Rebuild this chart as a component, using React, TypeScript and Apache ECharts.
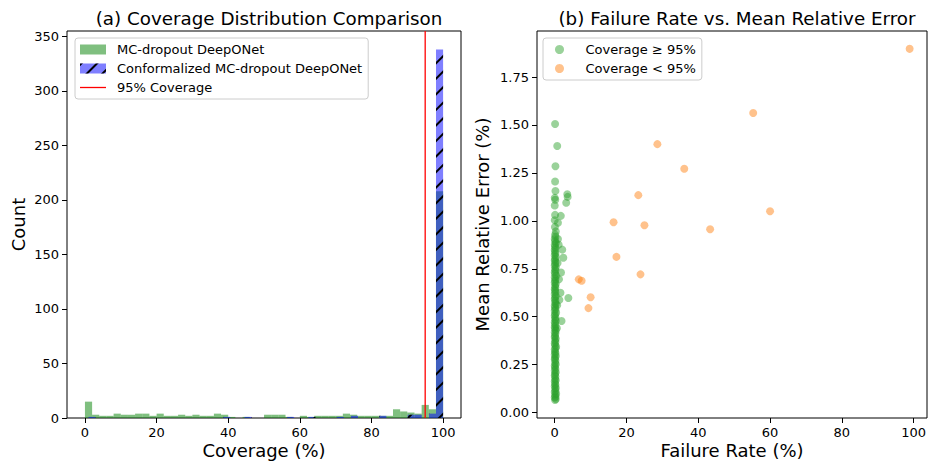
import React, { useEffect, useRef } from "react";
import * as echarts from "echarts";

// ---------- data ----------
const greenBinLefts = [
  0, 2, 4, 6, 8, 10, 12, 14, 16, 18, 20, 22, 24, 26, 28, 30, 32, 34, 36, 38,
  40, 42, 44, 46, 48, 50, 52, 54, 56, 58, 60, 62, 64, 66, 68, 70, 72, 74, 76, 78,
  80, 82, 84, 86, 88, 90, 92, 94, 96, 98,
];
const greenCounts = [
  15, 3, 2, 2, 4, 3, 3, 4, 4, 2, 4, 2, 2, 3, 2, 3, 2, 2, 4, 3,
  1, 0, 1, 0, 0, 3, 3, 3, 1, 0, 2, 1, 2, 2, 2, 2, 4, 3, 2, 2,
  2, 2, 2, 8, 6, 5, 4, 12, 8, 208,
];
const greenBinWidth = 2;
const blueBinLefts = [1.0, 38.62, 44.56, 56.44, 62.38, 70.3, 74.26, 82.18, 90.1, 92.08, 96.04, 98.02];
const blueCounts = [1, 1, 1, 1, 1, 1, 2, 2, 3, 3, 4, 338];
const blueBinWidth = 1.98;
const coverageTarget = 95;

const histXTicks = [0, 20, 40, 60, 80, 100];
const histYTicks = [0, 50, 100, 150, 200, 250, 300, 350];
const scatXTicks = [0, 20, 40, 60, 80, 100];
const scatYTicks = [0, 0.25, 0.5, 0.75, 1.0, 1.25, 1.5, 1.75];

const greenPoints = [
  [0.1, 1.505], [0.7, 1.39], [0.2, 1.285], [0.1, 1.205], [0.2, 1.156], [0.0, 1.12],
  [0.15, 1.11], [3.5, 1.139], [3.6, 1.125], [3.2, 1.094], [0.0, 1.08], [0.1, 1.031],
  [1.7, 1.026], [0.0, 1.003], [0.9, 0.99], [0.05, 0.968], [0.3, 0.945], [2.1, 0.85],
  [2.4, 0.808], [1.75, 0.731], [1.6, 0.625], [1.3, 0.588], [3.8, 0.598], [1.9, 0.478],
  [0.9, 0.905], [1.1, 0.876], [1.2, 0.695], [0.8, 0.78], [0.7, 0.56], [0.6, 0.44],
  [0.1, 0.066], [0.3, 0.071], [0.0, 0.079], [0.2, 0.084], [0.1, 0.093], [0.4, 0.098],
  [0.0, 0.107], [0.2, 0.113], [0.1, 0.124], [0.3, 0.129], [0.0, 0.137], [0.2, 0.146],
  [0.1, 0.152], [0.0, 0.163], [0.3, 0.169], [0.1, 0.176], [0.2, 0.188], [0.0, 0.194],
  [0.1, 0.203], [0.3, 0.211], [0.0, 0.219], [0.2, 0.227], [0.1, 0.236], [0.0, 0.244],
  [0.3, 0.252], [0.1, 0.259], [0.2, 0.271], [0.0, 0.278], [0.1, 0.286], [0.3, 0.295],
  [0.0, 0.302], [0.2, 0.311], [0.1, 0.318], [0.0, 0.329], [0.2, 0.336], [0.4, 0.344],
  [0.1, 0.352], [0.0, 0.361], [0.2, 0.368], [0.1, 0.377], [0.3, 0.386], [0.0, 0.394],
  [0.1, 0.401], [0.2, 0.412], [0.0, 0.419], [0.3, 0.428], [0.1, 0.436], [0.0, 0.445],
  [0.2, 0.453], [0.1, 0.462], [0.0, 0.471], [0.3, 0.479], [0.1, 0.487], [0.2, 0.496],
  [0.0, 0.505], [0.1, 0.514], [0.4, 0.522], [0.0, 0.531], [0.2, 0.539], [0.1, 0.548],
  [0.0, 0.557], [0.3, 0.566], [0.1, 0.574], [0.2, 0.583], [0.0, 0.592], [0.1, 0.601],
  [0.3, 0.609], [0.0, 0.618], [0.2, 0.627], [0.1, 0.636], [0.0, 0.644], [0.2, 0.653],
  [0.1, 0.662], [0.3, 0.671], [0.0, 0.679], [0.1, 0.688], [0.2, 0.697], [0.0, 0.706],
  [0.4, 0.714], [0.1, 0.723], [0.0, 0.732], [0.2, 0.741], [0.1, 0.749], [0.3, 0.758],
  [0.0, 0.767], [0.1, 0.776], [0.2, 0.785], [0.0, 0.794], [0.1, 0.803], [0.3, 0.812],
  [0.0, 0.821], [0.2, 0.83], [0.1, 0.839], [0.0, 0.848], [0.2, 0.857], [0.1, 0.866],
  [0.0, 0.876], [0.3, 0.885], [0.1, 0.894], [0.0, 0.905], [0.2, 0.917], [0.1, 0.928],
];
const orangePoints = [
  [98.9, 1.897], [55.3, 1.562], [28.6, 1.4], [36.1, 1.272], [23.3, 1.134],
  [60.0, 1.05], [16.4, 0.993], [25.0, 0.977], [43.3, 0.956], [17.2, 0.812],
  [23.9, 0.721], [6.7, 0.695], [7.5, 0.688], [10.0, 0.602], [9.4, 0.545],
];

// ---------- layout ----------
const FONT = "DejaVu Sans";
const L = { left: 67, top: 31, width: 394, height: 387 };
const R = { left: 537, top: 31, width: 390, height: 387 };
const histX = [-5, 105];
const histY = [0, 354.9];
const scatX = [-4.94, 103.74];
const scatY = [-0.028, 1.99];

const labelStyle = { color: "#000", fontFamily: FONT, fontSize: 13 };
const nameStyle = { color: "#000", fontFamily: FONT, fontSize: 18 };

function axis(extra: any, range: number[], ticks: number[], fmt: (v: number) => string) {
  return {
    type: "value",
    min: range[0],
    max: range[1],
    axisLine: { show: false, onZero: false },
    splitLine: { show: false },
    axisTick: { show: true, length: 5, lineStyle: { color: "#000", width: 1 }, customValues: ticks },
    axisLabel: { ...labelStyle, margin: 8, customValues: ticks, formatter: fmt },
    nameLocation: "middle",
    nameMoveOverlap: false,
    nameTextStyle: nameStyle,
    ...extra,
  };
}

export default function App() {
  const ref = useRef<HTMLDivElement>(null);
  useEffect(() => {
    const chart = echarts.init(ref.current!, null, { renderer: "svg" });
    const greenBarW = (greenBinWidth / (histX[1] - histX[0])) * L.width;
    const blueBarW = (blueBinWidth / (histX[1] - histX[0])) * L.width;
    const xNameStyle = { ...nameStyle, lineHeight: 18 };
    const option: any = {
      animation: false,
      backgroundColor: "#fff",
      textStyle: { fontFamily: FONT },
      title: [
        {
          text: "(a) Coverage Distribution Comparison",
          left: L.left + L.width / 2,
          textAlign: "center",
          top: 4,
          textStyle: { ...nameStyle, fontSize: 18.3, fontWeight: "normal" },
        },
        {
          text: "(b) Failure Rate vs. Mean Relative Error",
          left: R.left + R.width / 2,
          textAlign: "center",
          top: 4,
          textStyle: { ...nameStyle, fontSize: 18.3, fontWeight: "normal" },
        },
      ],
      grid: [
        { ...L, show: true, borderColor: "#000", borderWidth: 1, containLabel: false, outerBoundsMode: "none" },
        { ...R, show: true, borderColor: "#000", borderWidth: 1, containLabel: false, outerBoundsMode: "none" },
      ],
      xAxis: [
        axis({ gridIndex: 0, name: "Coverage (%)", nameGap: 23, nameTextStyle: xNameStyle }, histX, histXTicks, (v) => String(v)),
        axis({ gridIndex: 1, name: "Failure Rate (%)", nameGap: 23, nameTextStyle: xNameStyle }, scatX, scatXTicks, (v) => String(v)),
      ],
      yAxis: [
        axis({ gridIndex: 0, name: "Count", nameGap: 40 }, histY, histYTicks, (v) => String(v)),
        axis({ gridIndex: 1, name: "Mean Relative Error (%)", nameGap: 46 }, scatY, scatYTicks, (v) => v.toFixed(2)),
      ],
      legend: [
        {
          left: 75,
          top: 38,
          orient: "vertical",
          itemWidth: 26,
          itemHeight: 10,
          itemGap: 6,
          padding: [5, 6, 5, 5],
          borderColor: "#cccccc",
          borderWidth: 1,
          borderRadius: 3,
          backgroundColor: "rgba(255,255,255,0.8)",
          textStyle: { ...labelStyle, padding: [0, 0, 0, 6] },
          data: [
            { name: "MC-dropout DeepONet", icon: "rect" },
            { name: "Conformalized MC-dropout DeepONet", icon: "rect" },
            { name: "95% Coverage", icon: "path://M0,0H26V1.3H0Z" },
          ],
        },
        {
          left: 543,
          top: 38,
          orient: "vertical",
          itemWidth: 20,
          itemHeight: 9,
          itemGap: 6,
          padding: [5, 6, 5, 12],
          borderColor: "#cccccc",
          borderWidth: 1,
          borderRadius: 3,
          backgroundColor: "rgba(255,255,255,0.8)",
          textStyle: { ...labelStyle, padding: [0, 0, 0, 11] },
          data: [
            { name: "Coverage ≥ 95%", icon: "circle" },
            { name: "Coverage < 95%", icon: "circle" },
          ],
        },
      ],
      series: [
        {
          type: "bar",
          name: "MC-dropout DeepONet",
          xAxisIndex: 0,
          yAxisIndex: 0,
          barWidth: greenBarW,
          barGap: "-100%",
          itemStyle: { color: "rgba(0,128,0,0.5)", borderWidth: 0 },
          data: greenBinLefts.map((x, i) => [x + greenBinWidth / 2, greenCounts[i]]),
        },
        {
          type: "bar",
          name: "Conformalized MC-dropout DeepONet",
          xAxisIndex: 0,
          yAxisIndex: 0,
          barWidth: blueBarW,
          barGap: "-100%",
          itemStyle: {
            color: "rgba(0,0,255,0.5)",
            borderWidth: 0,
            decal: {
              symbol: "rect",
              symbolSize: 1,
              color: "#000",
              dashArrayX: [1, 0],
              dashArrayY: [1.1, 8.1],
              rotation: -Math.PI / 4,
            },
          },
          data: blueBinLefts.map((x, i) => [x + blueBinWidth / 2, blueCounts[i]]),
        },
        {
          type: "line",
          name: "95% Coverage",
          xAxisIndex: 0,
          yAxisIndex: 0,
          symbol: "none",
          lineStyle: { color: "#ff0000", width: 1.3 },
          itemStyle: { color: "#ff0000" },
          data: [
            [coverageTarget, histY[0]],
            [coverageTarget, histY[1]],
          ],
          z: 5,
        },
        {
          type: "scatter",
          name: "Coverage ≥ 95%",
          xAxisIndex: 1,
          yAxisIndex: 1,
          symbolSize: 8,
          itemStyle: { color: "rgba(44,160,44,0.6)" },
          data: greenPoints,
        },
        {
          type: "scatter",
          name: "Coverage < 95%",
          xAxisIndex: 1,
          yAxisIndex: 1,
          symbolSize: 8,
          itemStyle: { color: "rgba(255,127,14,0.6)" },
          data: orangePoints,
        },
      ],
    };
    chart.setOption(option);
    return () => chart.dispose();
  }, []);
  return (
    <div
      ref={ref}
      style={{ position: "fixed", left: 0, top: 0, width: 929, height: 461, background: "#fff" }}
    />
  );
}
